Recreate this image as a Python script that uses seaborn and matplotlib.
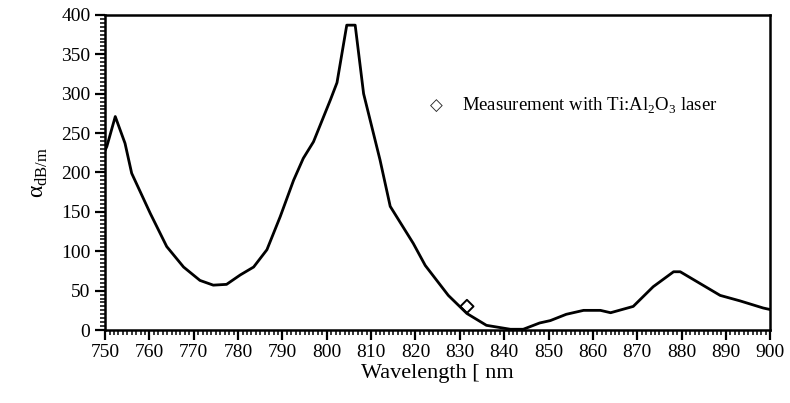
import numpy as np
import pandas as pd
import seaborn as sns
import matplotlib
matplotlib.use("Agg")
import matplotlib.pyplot as plt
from matplotlib.ticker import MultipleLocator

wavelength = [750, 750.4, 752.3, 754.5, 756, 760.2, 763.9, 767.7, 771.4, 774.4, 777.4,
              780.5, 783.5, 786.5, 789.5, 792.5, 794.7, 797, 800.8, 802.3, 804.5, 806.4,
              808.3, 812, 814.3, 819.5, 822.2, 827.4, 831.6, 836, 841.4, 844.3, 848,
              850.4, 854, 857.9, 861.7, 864, 869.1, 873.6, 878.2, 879.7, 884.2, 888.7,
              893.2, 898.4, 900]
alpha = [228, 233, 271, 237, 199, 148, 106, 80, 63, 57, 58,
         70, 80, 102, 144, 190, 218, 239, 292, 314, 387, 387,
         300, 216, 157, 110, 82, 44, 21, 6, 1, 1, 9,
         12, 20, 25, 25, 22, 30, 55, 74, 74, 59, 44,
         37, 28, 26]

meas_wl = [831.6]
meas_alpha = [30]

sns.set_theme(style="ticks")
plt.rcParams['font.family'] = ['Liberation Serif', 'DejaVu Serif']
plt.rcParams['mathtext.fontset'] = 'custom'
plt.rcParams['mathtext.rm'] = 'Liberation Serif'

fig = plt.figure(figsize=(7.9, 4.03), dpi=100)
ax = fig.add_axes([0.133, 0.181, 0.842, 0.782])

df = pd.DataFrame({"wl": wavelength, "a": alpha})
sns.lineplot(data=df, x="wl", y="a", ax=ax, color="black", linewidth=2.0)
dm = pd.DataFrame({"wl": meas_wl, "a": meas_alpha})
sns.scatterplot(data=dm, x="wl", y="a", ax=ax, marker="D", s=45,
                facecolor="none", edgecolor="black", linewidth=1.4)

ax.set_xlim(750, 900)
ax.set_ylim(0, 400)
ax.xaxis.set_major_locator(MultipleLocator(10))
ax.xaxis.set_minor_locator(MultipleLocator(1))
ax.yaxis.set_major_locator(MultipleLocator(50))
ax.yaxis.set_minor_locator(MultipleLocator(5))
ax.tick_params(axis='both', which='major', direction='out', length=7, width=1.6,
               labelsize=14, colors='black')
ax.tick_params(axis='both', which='minor', direction='out', length=3.5, width=1.3)
ax.tick_params(axis='x', pad=3)
for s in ax.spines.values():
    s.set_linewidth(1.8)
    s.set_color('black')

ax.set_xlabel("Wavelength [ nm", fontsize=16, color='black', labelpad=2)
ax.set_ylabel("\u03b1$_{\\mathrm{dB/m}}$", fontsize=17, color='black', labelpad=8)

fig.text(436/790, 1-106/403, "\u25C7", fontsize=12, ha='center', va='center',
         family=['DejaVu Sans'], weight='bold')
fig.text(462/790, 1-106/403, r"Measurement with Ti:Al$_2$O$_3$ laser", fontsize=13.5,
         ha='left', va='center', color='black')

fig.savefig("out.png", dpi=100, facecolor='white')
